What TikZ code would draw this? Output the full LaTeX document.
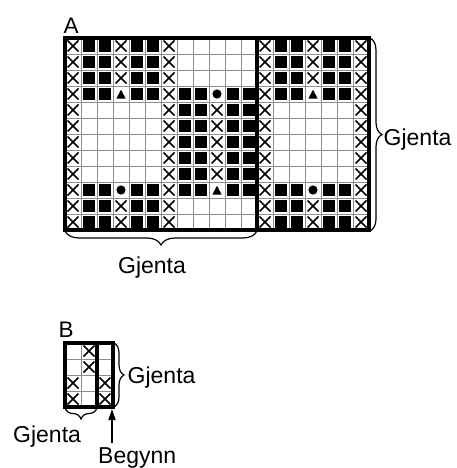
\documentclass[tikz,border=0pt]{standalone}
\usepackage{fontspec}
\setmainfont{Liberation Sans}
\usetikzlibrary{decorations.pathreplacing,arrows.meta}
\begin{document}
\begin{tikzpicture}[x=1pt,y=-1pt,
  gridln/.style={line width=0.8pt,draw=black!45},
  thickln/.style={line width=3.2pt,draw=black},
  bracestyle/.style={decorate,line width=1.2pt},
  lbl/.style={inner sep=0pt,font=\fontsize{23}{27}\selectfont},
  hdr/.style={inner sep=0pt,font=\fontsize{22.5}{26}\selectfont},
  arrowln/.style={line width=1.5pt,-{Triangle[width=7pt,length=11pt]}},
  xm/.pic={\draw[line width=1.5pt] (2.5,2.5) -- (13.5,13.5) (13.5,2.5) -- (2.5,13.5);},
  sq/.pic={\fill (2.2,2.2) rectangle (13.8,13.8);},
  dt/.pic={\fill (8,8) circle (4.6pt);},
  tr/.pic={\fill (3.3,12.7) -- (12.7,12.7) -- (8,3.8) -- cycle;}]
\useasboundingbox (0,0) rectangle (457,468);

% ---------- Chart A ----------
\foreach \i in {1,...,18}{\draw[gridln] ({65+16*\i},38) -- ({65+16*\i},230);}
\foreach \j in {1,...,11}{\draw[gridln] (65,{38+16*\j}) -- (369,{38+16*\j});}

\foreach \c in {0,6,12,18}{\foreach \r in {0,...,11}{\pic at ({65+16*\c},{38+16*\r}) {xm};}}
\foreach \c in {3,15}{%
  \foreach \r in {0,1,2,10,11}{\pic at ({65+16*\c},{38+16*\r}) {xm};}
  \pic at ({65+16*\c},{38+16*3}) {tr};
  \pic at ({65+16*\c},{38+16*9}) {dt};}
\foreach \c in {1,2,4,5,13,14,16,17}{\foreach \r in {0,1,2,3,9,10,11}{\pic at ({65+16*\c},{38+16*\r}) {sq};}}
\foreach \c in {7,8,10,11}{\foreach \r in {3,...,9}{\pic at ({65+16*\c},{38+16*\r}) {sq};}}
\foreach \r in {4,...,8}{\pic at ({65+16*9},{38+16*\r}) {xm};}
\pic at ({65+16*9},{38+16*3}) {dt};
\pic at ({65+16*9},{38+16*9}) {tr};

\draw[thickln] (65,38) rectangle (369,230);
\draw[thickln] (257,38) -- (257,230);

\coordinate (aR1) at (370,38);
\coordinate (aR2) at (370,231);
\coordinate (aB1) at (257,231);
\coordinate (aB2) at (65,231);
\draw[bracestyle,decoration={brace,amplitude=12pt}] (aR1) -- (aR2);
\draw[bracestyle,decoration={brace,amplitude=14pt}] (aB1) -- (aB2);

\node[hdr,anchor=base west] (labA) at (63.5,33.3) {A};
\node[lbl,anchor=base west] (gjAr) at (383.5,145) {Gjenta};
\node[lbl,anchor=base] (gjAb) at (152,273) {Gjenta};

% ---------- Chart B ----------
\foreach \i in {1,2}{\draw[gridln] ({65+16*\i},343) -- ({65+16*\i},407);}
\foreach \j in {1,2,3}{\draw[gridln] (65,{343+16*\j}) -- (113,{343+16*\j});}
\pic at (81,343) {xm};
\pic at (81,359) {xm};
\pic at (65,375) {xm};
\pic at (65,391) {xm};
\pic at (97,375) {xm};
\pic at (97,391) {xm};
\draw[thickln] (65,343) rectangle (113,407);
\draw[thickln] (97,343) -- (97,407);

\coordinate (bR1) at (114,343);
\coordinate (bR2) at (114,407);
\coordinate (bB1) at (97,408);
\coordinate (bB2) at (65,408);
\draw[bracestyle,decoration={brace,amplitude=10pt}] (bR1) -- (bR2);
\draw[bracestyle,decoration={brace,amplitude=11pt}] (bB1) -- (bB2);

\node[hdr,anchor=base west] (labB) at (58.5,337) {B};
\node[lbl,anchor=base west] (gjBr) at (127.5,383) {Gjenta};
\node[lbl,anchor=base west] (gjBb) at (13,442) {Gjenta};
\node[lbl,anchor=base west] (beg) at (98,463) {Begynn};

\coordinate (arS) at (112,443);
\coordinate (arE) at (112,409);
\draw[arrowln] (arS) -- (arE);
\end{tikzpicture}
\end{document}
